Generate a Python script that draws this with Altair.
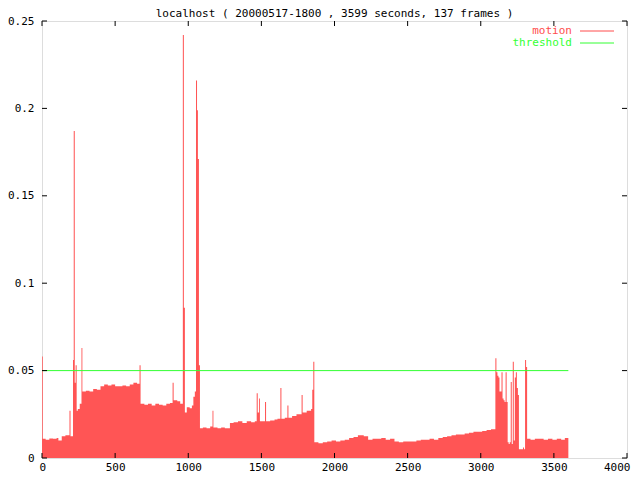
import altair as alt
import pandas as pd

TITLE = "localhost ( 20000517-1800 , 3599 seconds, 137 frames )"

# motion value per time (seconds), step-after
times = [0, 5, 25, 50, 75, 100, 112, 135, 160, 188, 195, 212, 217, 224, 230, 237, 245, 258, 270, 276,
         300, 325, 350, 375, 400, 425, 450, 475, 500, 525, 550, 575, 600, 625, 650, 667, 674,
         700, 725, 750, 775, 800, 825, 850, 875, 893, 900, 925, 945, 963, 970, 977, 990, 1010,
         1025, 1035, 1045, 1053, 1060, 1066, 1073, 1080, 1100, 1125, 1150, 1166, 1172, 1200,
         1225, 1250, 1285, 1310, 1340, 1370, 1400, 1430, 1455, 1468, 1475, 1484, 1490, 1525,
         1532, 1560, 1590, 1610, 1630, 1637, 1660, 1678, 1685, 1710, 1740, 1775, 1782, 1810,
         1840, 1848, 1855, 1862, 1890, 1920, 1950, 1980, 2010, 2040, 2070, 2100, 2130, 2160,
         2200, 2230, 2260, 2290, 2320, 2350, 2380, 2410, 2440, 2470, 2500, 2530, 2560, 2590,
         2620, 2650, 2680, 2710, 2740, 2770, 2800, 2830, 2860, 2890, 2920, 2950, 2980, 3010,
         3040, 3070, 3100, 3107, 3114, 3121, 3128, 3135, 3142, 3149, 3156, 3163, 3170, 3177,
         3184, 3191, 3198, 3205, 3212, 3219, 3226, 3233, 3240, 3247, 3254, 3261, 3275, 3289,
         3296, 3303, 3310, 3317, 3340, 3370, 3400, 3430, 3460, 3490, 3520, 3550, 3575, 3599]
motion = [0.058, 0.011, 0.0105, 0.0112, 0.011, 0.0115, 0.0100, 0.0125, 0.013, 0.027, 0.0125, 0.056,
          0.187, 0.043, 0.053, 0.027, 0.028, 0.031, 0.063, 0.038,
          0.0385, 0.038, 0.0395, 0.039, 0.041, 0.042, 0.0415, 0.042, 0.041, 0.041, 0.0415, 0.041,
          0.042, 0.043, 0.0425, 0.053, 0.031,
          0.0305, 0.031, 0.030, 0.031, 0.0305, 0.030, 0.031, 0.0315, 0.043, 0.033, 0.0325, 0.031,
          0.242, 0.086, 0.026, 0.029, 0.0285,
          0.030, 0.035, 0.038, 0.216, 0.199, 0.171, 0.053, 0.017, 0.0175, 0.017, 0.018, 0.027,
          0.0175, 0.017,
          0.0175, 0.017, 0.020, 0.0205, 0.021, 0.020, 0.021, 0.0205, 0.021, 0.037, 0.026, 0.034,
          0.021, 0.032,
          0.021, 0.0215, 0.022, 0.0225, 0.040, 0.0225, 0.023, 0.030, 0.023, 0.024, 0.025, 0.036,
          0.026, 0.027,
          0.028, 0.039, 0.055, 0.009, 0.0085, 0.009, 0.0095, 0.010, 0.0095, 0.010, 0.0105, 0.0115,
          0.012, 0.013,
          0.0125, 0.0105, 0.011, 0.011, 0.0115, 0.0105, 0.011, 0.0095, 0.009, 0.0095, 0.0095,
          0.0095, 0.010, 0.0105,
          0.0105, 0.011, 0.0105, 0.0115, 0.012, 0.0125, 0.013, 0.0135, 0.0135, 0.014, 0.0145,
          0.015, 0.015, 0.0155,
          0.016, 0.0165, 0.057, 0.049, 0.047, 0.046, 0.038, 0.038, 0.049, 0.034, 0.033, 0.032,
          0.049, 0.032,
          0.009, 0.008, 0.009, 0.0435, 0.008, 0.055, 0.010, 0.046, 0.049, 0.040, 0.036, 0.005,
          0.005, 0.006,
          0.005, 0.056, 0.052, 0.011, 0.0105, 0.011, 0.011, 0.0105, 0.011, 0.0105, 0.011, 0.0105,
          0.0115, 0.0115]

thr_times = [0, 3599]
thr_values = [0.05, 0.05]

x_ticks = [0, 500, 1000, 1500, 2000, 2500, 3000, 3500, 4000]
y_ticks = [0, 0.05, 0.1, 0.15, 0.2, 0.25]

legend_labels = ["motion", "threshold"]
legend_colors = ["#ff4d4d", "#33ff33"]
legend_rows = [10, 22]

MONO = "DejaVu Sans Mono"
FS = 11
W, H = 585, 437
RED = "#ff5555"
GREEN = "#33ff33"

xs = alt.Scale(domain=[0, 4000], nice=False)
ys = alt.Scale(domain=[0, 0.25], nice=False, zero=True)

df = pd.DataFrame({"t": times, "v": motion})
thr = pd.DataFrame({"t": thr_times, "v": thr_values})
xt = pd.DataFrame({"t": x_ticks})
yt = pd.DataFrame({"v": y_ticks})

x_axis = alt.Axis(values=x_ticks, title=None, ticks=False, domain=False, grid=False,
                  labelFont=MONO, labelFontSize=FS, labelColor="black", labelPadding=3,
                  labelFlush=True, labelFlushOffset=3, labelOverlap=False, format="d")
y_axis = alt.Axis(values=y_ticks, title=None, ticks=False, domain=False, grid=False,
                  labelFont=MONO, labelFontSize=FS, labelColor="black", labelPadding=8,
                  labelFlush=False, labelOverlap=False, format="~g")

X = alt.X("t:Q", scale=xs, axis=x_axis)
Y = alt.Y("v:Q", scale=ys, axis=y_axis)

area = alt.Chart(df).mark_area(interpolate="step-after", color=RED, opacity=1).encode(x=X, y=Y)

thr_line = alt.Chart(thr).mark_line(color=GREEN, strokeWidth=1).encode(x=X, y=Y)

tick_bottom = alt.Chart(xt).mark_rule(color="black", strokeWidth=1).encode(
    x=X, y=alt.value(H), y2=alt.value(H - 5))
tick_top = alt.Chart(xt).mark_rule(color="black", strokeWidth=1).encode(
    x=X, y=alt.value(0), y2=alt.value(5))
tick_left = alt.Chart(yt).mark_rule(color="black", strokeWidth=1).encode(
    y=Y, x=alt.value(0), x2=alt.value(5))
tick_right = alt.Chart(yt).mark_rule(color="black", strokeWidth=1).encode(
    y=Y, x=alt.value(W), x2=alt.value(W - 5))

layers = [area, thr_line, tick_bottom, tick_top, tick_left, tick_right]

for lab, col, row in zip(legend_labels, legend_colors, legend_rows):
    one = pd.DataFrame({"label": [lab]})
    layers.append(alt.Chart(one).mark_text(align="right", baseline="middle", font=MONO,
                                           fontSize=FS, color=col).encode(
        text="label:N", x=alt.value(530), y=alt.value(row)))
    layers.append(alt.Chart(one).mark_rule(color=col, strokeWidth=1).encode(
        x=alt.value(538), x2=alt.value(572), y=alt.value(row)))

chart = alt.layer(*layers).properties(
    width=W, height=H,
    title=alt.TitleParams(TITLE, font=MONO, fontSize=FS, fontWeight="normal",
                          anchor="middle", offset=1, dy=5, color="black"),
    autosize=alt.AutoSizeParams(type="none"),
    padding={"left": 34, "top": 13, "right": 5, "bottom": 14},
).configure_view(stroke="black", strokeWidth=1).configure(background="white")

chart.save("out.html", embed_options={"renderer": "svg", "actions": False})
